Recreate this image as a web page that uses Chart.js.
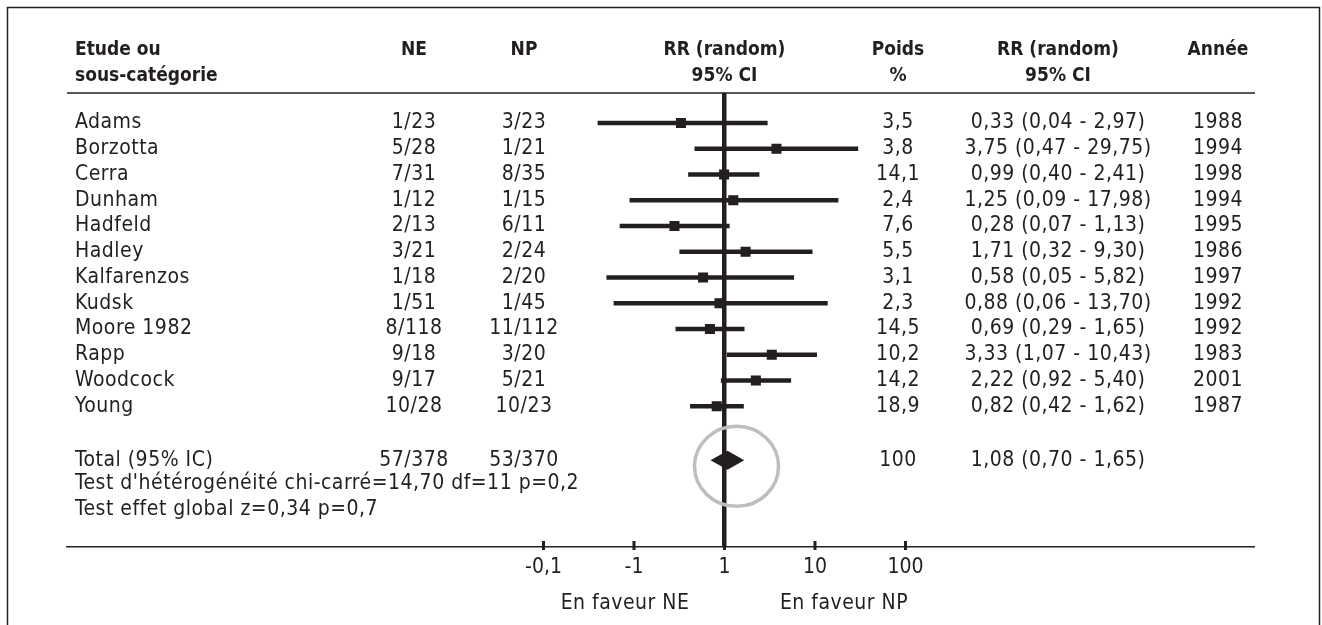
<!DOCTYPE html>
<html>
<head>
<meta charset="utf-8">
<script src="https://cdn.jsdelivr.net/npm/chart.js@4.4.1/dist/chart.umd.min.js"></script>
<style>
html,body{margin:0;padding:0;background:#fff;}
canvas{display:block;}
</style>
</head>
<body>
<canvas id="c" width="1322" height="625"></canvas>
<script>
// ---- data ----
const studies = ["Adams","Borzotta","Cerra","Dunham","Hadfeld","Hadley","Kalfarenzos","Kudsk","Moore 1982","Rapp","Woodcock","Young"];
const neEvents = [1,5,7,1,2,3,1,1,8,9,9,10];
const neTotals = [23,28,31,12,13,21,18,51,118,18,17,28];
const npEvents = [3,1,8,1,6,2,2,1,11,3,5,10];
const npTotals = [23,21,35,15,11,24,20,45,112,20,21,23];
const weights = [3.5,3.8,14.1,2.4,7.6,5.5,3.1,2.3,14.5,10.2,14.2,18.9];
const rr = [0.33,3.75,0.99,1.25,0.28,1.71,0.58,0.88,0.69,3.33,2.22,0.82];
const ciLow = [0.04,0.47,0.40,0.09,0.07,0.32,0.05,0.06,0.29,1.07,0.92,0.42];
const ciHigh = [2.97,29.75,2.41,17.98,1.13,9.30,5.82,13.70,1.65,10.43,5.40,1.62];
const years = [1988,1994,1998,1994,1995,1986,1997,1992,1992,1983,2001,1987];
const totalLabel = "Total (95% IC)";
const totalNE = [57,378];
const totalNP = [53,370];
const totalWeight = "100";
const totalRR = 1.08, totalLow = 0.70, totalHigh = 1.65;
const hetText = "Test d'hétérogénéité chi-carré=14,70 df=11 p=0,2";
const effText = "Test effet global z=0,34 p=0,7";
const tickValues = [0.01,0.1,1,10,100];
const tickLabels = ["-0,1","-1","1","10","100"];
const favourLabels = ["En faveur NE","En faveur NP"];
const headers1 = ["Etude ou","NE","NP","RR (random)","Poids","RR (random)","Année"];
const headers2 = ["sous-catégorie","","","95% CI","%","95% CI",""];

// ---- layout/style ----
const INK = '#231f20';
const GREY = '#bcbec0';
const FONT = '"DejaVu Sans Condensed", "DejaVu Sans", sans-serif';
const FSIZE = 21;
const rowTotal = 13.1, rowHet = 14.0, rowEff = 15.0;
const colName = 75, colNE = 414, colNP = 524, colW = 898, colRR = 1058, colYear = 1218;
const fmt2 = v => v.toFixed(2).replace('.', ',');
const fmt1 = v => v.toFixed(1).replace('.', ',');

const forestPlugin = {
  id: 'forest',
  afterDatasetsDraw(chart) {
    const {ctx, chartArea: a, scales: {x, y}} = chart;
    ctx.save();
    // frame
    ctx.strokeStyle = INK; ctx.lineWidth = 1.5;
    ctx.strokeRect(7.5, 7.5, 1312, 700);
    // header rule
    ctx.beginPath(); ctx.moveTo(a.left, a.top); ctx.lineTo(a.right, a.top); ctx.stroke();
    // tick marks
    ctx.fillStyle = INK;
    tickValues.forEach(v => {
      const px = x.getPixelForValue(v);
      ctx.fillRect(px - 1.5, a.bottom - 6, 3, 9);
    });
    // total diamond
    const yT = y.getPixelForValue(rowTotal);
    const xl = x.getPixelForValue(totalLow), xm = x.getPixelForValue(totalRR), xh = x.getPixelForValue(totalHigh);
    ctx.beginPath();
    ctx.moveTo(xl, yT); ctx.lineTo(xm, yT - 9.5); ctx.lineTo(xh, yT); ctx.lineTo(xm, yT + 9.5); ctx.closePath();
    ctx.fill();
    // grey highlight circle
    ctx.strokeStyle = GREY; ctx.lineWidth = 3.5;
    ctx.beginPath(); ctx.ellipse(xm + 9, yT + 6, 42, 40, 0, 0, Math.PI * 2); ctx.stroke();

    // texts
    ctx.fillStyle = INK;
    ctx.textBaseline = 'middle';
    const cols = [colName, colNE, colNP, x.getPixelForValue(1), colW, colRR, colYear];
    ctx.font = 'bold 19px ' + FONT;
    headers1.forEach((t, i) => { ctx.textAlign = i === 0 ? 'left' : 'center'; ctx.fillText(t, cols[i], 50); });
    headers2.forEach((t, i) => { if (t) { ctx.textAlign = i === 0 ? 'left' : 'center'; ctx.fillText(t, cols[i], 76); } });

    ctx.font = FSIZE + 'px ' + FONT;
    ctx.letterSpacing = '0.5px';
    studies.forEach((s, i) => {
      const py = y.getPixelForValue(i);
      ctx.textAlign = 'left'; ctx.fillText(s, colName, py);
      ctx.textAlign = 'center';
      ctx.fillText(neEvents[i] + '/' + neTotals[i], colNE, py);
      ctx.fillText(npEvents[i] + '/' + npTotals[i], colNP, py);
      ctx.fillText(fmt1(weights[i]), colW, py);
      ctx.fillText(fmt2(rr[i]) + ' (' + fmt2(ciLow[i]) + ' - ' + fmt2(ciHigh[i]) + ')', colRR, py);
      ctx.fillText(String(years[i]), colYear, py);
    });
    ctx.textAlign = 'left';
    ctx.fillText(totalLabel, colName, yT);
    ctx.fillText(hetText, colName, y.getPixelForValue(rowHet));
    ctx.fillText(effText, colName, y.getPixelForValue(rowEff));
    ctx.textAlign = 'center';
    ctx.fillText(totalNE[0] + '/' + totalNE[1], colNE, yT);
    ctx.fillText(totalNP[0] + '/' + totalNP[1], colNP, yT);
    ctx.fillText(totalWeight, colW, yT);
    ctx.fillText(fmt2(totalRR) + ' (' + fmt2(totalLow) + ' - ' + fmt2(totalHigh) + ')', colRR, yT);
    // favour labels
    ctx.fillText(favourLabels[0], 625, 604);
    ctx.fillText(favourLabels[1], 844, 604);
    ctx.restore();
  }
};

const decade = 90.5;
const xLeftLog = -(724.5 - 67) / decade;
const xRightLog = (1255 - 724.5) / decade;
const rowPx = 25.75;

new Chart(document.getElementById('c'), {
  type: 'bar',
  data: {
    datasets: [
      {
        type: 'bar', indexAxis: 'y',
        data: studies.map((s, i) => ({x: [ciLow[i], ciHigh[i]], y: i})),
        backgroundColor: INK, borderWidth: 0, barThickness: 4, order: 2
      },
      {
        type: 'scatter',
        data: studies.map((s, i) => ({x: rr[i], y: i})),
        pointStyle: 'rect', pointRadius: 7.1, backgroundColor: INK, borderWidth: 0, order: 1
      }
    ]
  },
  options: {
    responsive: false, animation: false, events: [],
    layout: {padding: {left: 67, right: 67, top: 93, bottom: 0}},
    plugins: {legend: {display: false}, tooltip: {enabled: false}},
    scales: {
      x: {
        type: 'logarithmic', position: 'bottom', bounds: 'data', offset: false,
        min: Math.pow(10, xLeftLog), max: Math.pow(10, xRightLog),
        afterBuildTicks: s => { s.ticks = tickValues.map(v => ({value: v})); },
        afterFit: s => { s.height = 78; },
        ticks: {
          autoSkip: false, maxRotation: 0, padding: 8, color: INK,
          font: {family: FONT, size: FSIZE},
          callback: v => tickLabels[tickValues.indexOf(v)]
        },
        grid: {offset: false, drawTicks: false, color: INK, lineWidth: c => (c.tick && c.tick.value === 1) ? 4.5 : 0},
        border: {display: true, color: INK, width: 1.5}
      },
      y: {
        type: 'linear', reverse: true, display: false, offset: false,
        min: -30 / rowPx, max: 424 / rowPx
      }
    }
  },
  plugins: [forestPlugin]
});
</script>
</body>
</html>
